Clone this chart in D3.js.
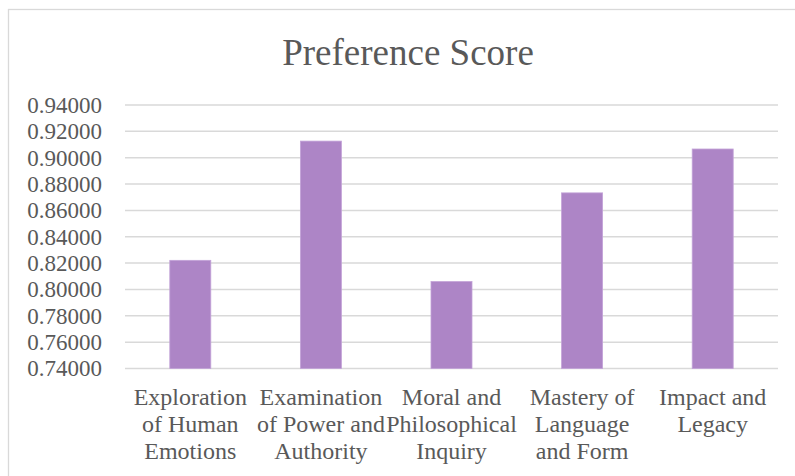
<!DOCTYPE html>
<html lang="en">
<head>
    <meta charset="UTF-8">
    <script src="https://cdn.jsdelivr.net/npm/d3@7"></script>
    <title>Preference Score</title>
    <style>
        body { margin: 0; background: #fff; }
    </style>
</head>
<body>
    <div id="chart"></div>

    <script>
        // categories (line breaks as they wrap in the picture)
        const categories = [
            "Exploration\nof Human\nEmotions",
            "Examination\nof Power and\nAuthority",
            "Moral and\nPhilosophical\nInquiry",
            "Mastery of\nLanguage\nand Form",
            "Impact and\nLegacy"
        ];
        // preference score per category
        const scores = [0.8221, 0.9126, 0.8060, 0.8733, 0.9066];
        // y tick values
        const yTicks = [0.74, 0.76, 0.78, 0.80, 0.82, 0.84, 0.86, 0.88, 0.90, 0.92, 0.94];

        const width = 795, height = 476;
        const margin = { top: 105, right: 17, bottom: 108, left: 125 };
        const serif = "'Liberation Serif', 'Times New Roman', Times, serif";
        const textColor = "#595959";

        const svg = d3.select("#chart").append("svg")
            .attr("width", width)
            .attr("height", height);

        // chart area frame
        svg.append("rect")
            .attr("x", 8.5)
            .attr("y", 9.5)
            .attr("width", 820)
            .attr("height", 490)
            .attr("fill", "none")
            .attr("stroke", "#d9d9d9")
            .attr("stroke-width", 1.3);

        // title
        svg.append("text")
            .attr("x", 408)
            .attr("y", 65)
            .attr("text-anchor", "middle")
            .attr("font-family", serif)
            .attr("font-size", 37)
            .attr("fill", textColor)
            .text("Preference Score");

        const x = d3.scaleBand()
            .domain(categories)
            .range([margin.left, width - margin.right])
            .padding(0);

        const y = d3.scaleLinear()
            .domain([0.74, 0.94])
            .range([height - margin.bottom + 0.5, margin.top]);

        // gridlines
        svg.append("g")
            .selectAll("line")
            .data(yTicks)
            .enter()
            .append("line")
            .attr("x1", margin.left)
            .attr("x2", width - margin.right)
            .attr("y1", d => y(d))
            .attr("y2", d => y(d))
            .attr("stroke", "#d9d9d9")
            .attr("stroke-width", 1.5);

        // y axis labels
        const yAxis = d3.axisLeft(y)
            .tickValues(yTicks)
            .tickFormat(d3.format(".5f"))
            .tickSize(0)
            .tickPadding(23);

        const gy = svg.append("g")
            .attr("transform", `translate(${margin.left},0)`)
            .attr("font-family", serif)
            .attr("font-size", 23)
            .call(yAxis)
            .attr("font-family", serif)
            .attr("font-size", 23);
        gy.select(".domain").remove();
        gy.selectAll("text")
            .attr("fill", textColor)
            .attr("font-family", serif)
            .attr("font-size", 23);

        // bars
        const barW = x.bandwidth() * 0.314;
        svg.append("g")
            .selectAll("rect")
            .data(scores)
            .enter()
            .append("rect")
            .attr("x", (d, i) => x(categories[i]) + (x.bandwidth() - barW) / 2)
            .attr("y", d => y(d))
            .attr("width", barW)
            .attr("height", d => y(0.74) - y(d))
            .attr("fill", "#ad85c6")
            .attr("stroke", "#c3a3d8")
            .attr("stroke-width", 0.8);

        // x labels, wrapped
        const xl = svg.append("g")
            .selectAll("text")
            .data(categories)
            .enter()
            .append("text")
            .attr("text-anchor", "middle")
            .attr("x", d => x(d) + x.bandwidth() / 2)
            .attr("y", y(0.74) + 36)
            .attr("font-family", serif)
            .attr("font-size", 24)
            .attr("fill", textColor);

        xl.selectAll("tspan")
            .data(d => d.split("\n"))
            .enter()
            .append("tspan")
            .attr("x", function() { return this.parentNode.getAttribute("x"); })
            .attr("dy", (d, i) => i === 0 ? 0 : 27)
            .text(d => d);
    </script>
</body>
</html>
